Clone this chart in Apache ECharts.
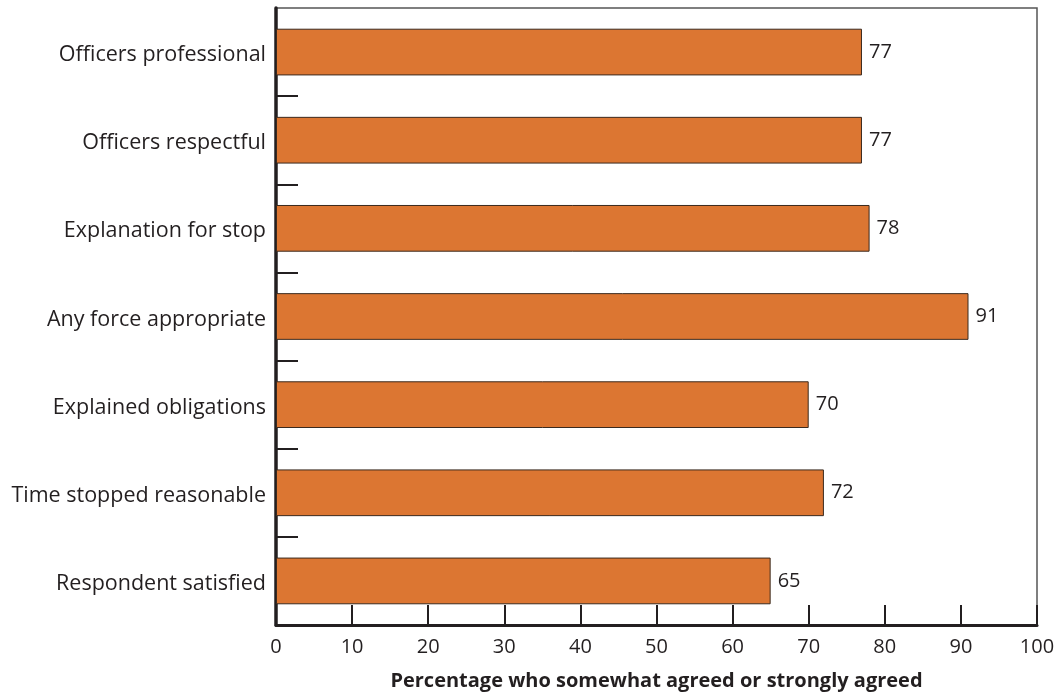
<!DOCTYPE html>
<html>
<head>
<meta charset="utf-8">
<style>
  html, body { margin: 0; padding: 0; background: #ffffff; }
  #chart { width: 1057px; height: 694px; }
</style>
<script src="https://cdn.jsdelivr.net/npm/echarts@6/dist/echarts.min.js"></script>
</head>
<body>
<div id="chart"></div>
<script>
// Survey items, listed top to bottom
const categories = [
  'Officers professional',
  'Officers respectful',
  'Explanation for stop',
  'Any force appropriate',
  'Explained obligations',
  'Time stopped reasonable',
  'Respondent satisfied'
];
// Percent of respondents who somewhat or strongly agreed
const agreePct = [77, 77, 78, 91, 70, 72, 65];
const xTicks = { min: 0, max: 100, interval: 10 };
const xTitle = 'Percentage who somewhat agreed or strongly agreed';

const FONT = '"Open Sans", "Noto Sans", sans-serif';
const INK = '#231f20';

const chart = echarts.init(document.getElementById('chart'), null, { renderer: 'canvas' });
chart.setOption({
  animation: false,
  backgroundColor: '#ffffff',
  grid: {
    left: 276, right: 20, top: 8, bottom: 69,
    outerBoundsMode: 'none',
    containLabel: false,
    show: true, borderColor: '#555555', borderWidth: 1.5,
    backgroundColor: 'transparent'
  },
  xAxis: {
    type: 'value',
    min: xTicks.min, max: xTicks.max, interval: xTicks.interval,
    name: xTitle,
    nameLocation: 'middle',
    nameGap: 46,
    nameTextStyle: { fontFamily: FONT, fontSize: 20, fontWeight: 'bold', color: INK },
    axisLine: { show: true, lineStyle: { color: INK, width: 3 } },
    axisTick: { show: true, inside: true, length: 20, lineStyle: { color: INK, width: 2 } },
    axisLabel: { fontFamily: FONT, fontSize: 20, color: INK, margin: 12 },
    splitLine: { show: false }
  },
  yAxis: {
    type: 'category',
    data: categories,
    inverse: true,
    axisLine: { show: true, lineStyle: { color: INK, width: 3.5 } },
    axisTick: {
      show: true, inside: true, length: 22,
      interval: function (i) { return i > 0; },
      lineStyle: { color: INK, width: 2 }
    },
    axisLabel: {
      interval: 0, margin: 10,
      formatter: '{c|{value}}',
      rich: {
        c: { fontFamily: FONT, fontSize: 21.5, color: INK, padding: [6, 0, 0, 0] }
      }
    },
    splitLine: { show: false }
  },
  series: [{
    type: 'bar',
    data: agreePct,
    barWidth: '53%',
    itemStyle: { color: '#dc7632', borderColor: '#3b2a1e', borderWidth: 1 },
    label: {
      show: true, position: 'right', distance: 7, padding: [4, 0, 0, 0],
      fontFamily: FONT, fontSize: 20, color: INK
    }
  }]
});
</script>
</body>
</html>
